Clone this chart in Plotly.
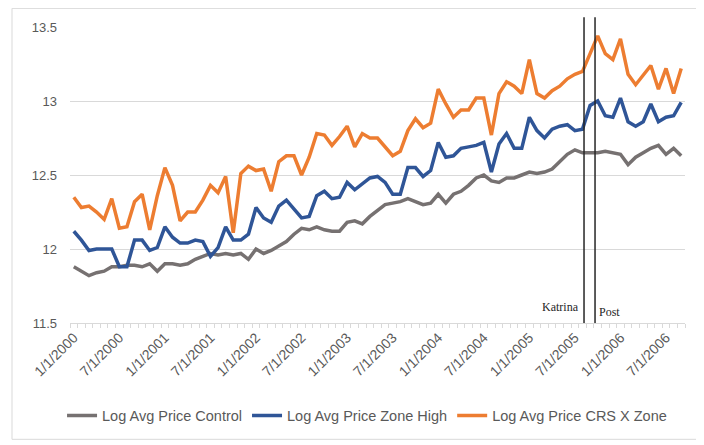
import plotly.graph_objects as go

# Monthly observations, Jan 2000 .. Sep 2006 (81 months)
months = [f"{m}/1/{y}" for y in range(2000, 2007) for m in range(1, 13)][:81]

control = [11.88, 11.85, 11.82, 11.84, 11.85, 11.88, 11.88, 11.89, 11.89, 11.88,
           11.90, 11.85, 11.90, 11.90, 11.89, 11.90, 11.93, 11.95, 11.97, 11.96,
           11.97, 11.96, 11.97, 11.93, 12.00, 11.97, 11.99, 12.02, 12.05, 12.10,
           12.14, 12.13, 12.15, 12.13, 12.12, 12.12, 12.18, 12.19, 12.17, 12.22,
           12.26, 12.30, 12.31, 12.32, 12.34, 12.32, 12.30, 12.31, 12.37, 12.31,
           12.37, 12.39, 12.43, 12.48, 12.50, 12.46, 12.45, 12.48, 12.48, 12.50,
           12.52, 12.51, 12.52, 12.54, 12.59, 12.64, 12.67, 12.65, 12.65, 12.65,
           12.66, 12.65, 12.64, 12.57, 12.62, 12.65, 12.68, 12.70, 12.64, 12.68,
           12.63]

zone_high = [12.12, 12.06, 11.99, 12.00, 12.00, 12.00, 11.88, 11.88, 12.06, 12.06,
             11.99, 12.01, 12.15, 12.08, 12.04, 12.04, 12.06, 12.05, 11.95, 12.01,
             12.15, 12.06, 12.06, 12.10, 12.28, 12.21, 12.18, 12.29, 12.33, 12.27,
             12.21, 12.22, 12.36, 12.39, 12.34, 12.35, 12.45, 12.40, 12.44, 12.48,
             12.49, 12.45, 12.37, 12.37, 12.55, 12.55, 12.49, 12.53, 12.72, 12.62,
             12.63, 12.68, 12.69, 12.70, 12.72, 12.52, 12.71, 12.78, 12.68, 12.68,
             12.89, 12.80, 12.75, 12.81, 12.83, 12.84, 12.80, 12.81, 12.97, 13.00,
             12.90, 12.89, 13.02, 12.86, 12.83, 12.86, 12.98, 12.86, 12.89, 12.90,
             12.99]

crs_zone = [12.35, 12.28, 12.29, 12.25, 12.20, 12.34, 12.14, 12.15, 12.32, 12.37,
            12.13, 12.36, 12.55, 12.43, 12.19, 12.25, 12.25, 12.33, 12.43, 12.38,
            12.49, 12.11, 12.51, 12.56, 12.53, 12.54, 12.39, 12.59, 12.63, 12.63,
            12.50, 12.62, 12.78, 12.77, 12.70, 12.76, 12.83, 12.69, 12.78, 12.75,
            12.75, 12.69, 12.63, 12.66, 12.80, 12.88, 12.82, 12.85, 13.08, 12.98,
            12.89, 12.94, 12.94, 13.02, 13.02, 12.77, 13.05, 13.13, 13.10, 13.05,
            13.28, 13.05, 13.02, 13.07, 13.10, 13.15, 13.18, 13.20, 13.32, 13.44,
            13.32, 13.28, 13.42, 13.18, 13.11, 13.18, 13.24, 13.08, 13.22, 13.05,
            13.22]

tick_labels = ["1/1/2000", "7/1/2000", "1/1/2001", "7/1/2001", "1/1/2002", "7/1/2002",
               "1/1/2003", "7/1/2003", "1/1/2004", "7/1/2004", "1/1/2005", "7/1/2005",
               "1/1/2006", "7/1/2006"]
y_ticks = [11.5, 12, 12.5, 13, 13.5]

# event markers (position in months from Jan 2000)
events = [("Katrina", 67.2), ("Post", 68.65)]

x_idx = list(range(len(months)))
tick_pos = [months.index(t) for t in tick_labels]
major_marks = [p - 0.5 for p in tick_pos] + [len(months) - 0.5]

series = [
    ("Log Avg Price Control", control, "#767171"),
    ("Log Avg Price Zone High", zone_high, "#2F5597"),
    ("Log Avg Price CRS X Zone", crs_zone, "#ED7D31"),
]

fig = go.Figure()
for name, vals, col in series:
    fig.add_trace(go.Scatter(x=x_idx, y=vals, name=name, mode="lines",
                             line=dict(color=col, width=3.5),
                             customdata=months,
                             hovertemplate="%{customdata}: %{y}<extra>" + name + "</extra>"))

font_main = "Liberation Sans Narrow, Arial Narrow, Liberation Sans, Arial, sans-serif"

# page body adds an 8px offset, so the figure is 8px smaller and margins shifted
fig.update_layout(
    width=696, height=437,
    margin=dict(l=62, r=19, t=15, b=122),
    paper_bgcolor="white", plot_bgcolor="white",
    font=dict(family=font_main, size=13, color="#595959"),
    showlegend=True,
    legend=dict(orientation="h", x=0.483, xanchor="center", y=-0.313, yanchor="middle",
                font=dict(size=14.5, color="#595959"), itemwidth=30,
                bgcolor="rgba(0,0,0,0)"),
    xaxis=dict(range=[-0.5, len(months) - 0.5], tickmode="array", tickvals=tick_pos,
               ticktext=tick_labels, tickangle=-45, ticks="", showgrid=False,
               zeroline=False, showline=True, linecolor="#d9d9d9", linewidth=1,
               tickfont=dict(size=14, color="#595959"),
               minor=dict(ticks="outside", tick0=-0.5, dtick=1, ticklen=4,
                          tickcolor="#d9d9d9", tickwidth=1, showgrid=False)),
    xaxis2=dict(overlaying="x", matches="x", anchor="y", side="bottom",
                tickmode="array", tickvals=major_marks, showticklabels=False,
                ticks="outside", ticklen=7, tickcolor="#d9d9d9", tickwidth=1,
                showgrid=False, zeroline=False, showline=False),
    yaxis=dict(range=[11.5, 13.5], tickmode="array", tickvals=y_ticks,
               showgrid=True, gridcolor="#d9d9d9", gridwidth=1, zeroline=False,
               showline=False, ticks="", ticklabelstandoff=12,
               tickfont=dict(size=13, color="#595959")),
)

for label, xpos in events:
    fig.add_shape(type="line", xref="x", yref="paper", x0=xpos, x1=xpos, y0=0, y1=1.033,
                  line=dict(color="#262626", width=1.5))

serif = "Liberation Serif, Times New Roman, serif"
fig.add_annotation(x=events[0][1], xref="x", y=0.053, yref="paper", text="Katrina",
                   showarrow=False, xanchor="right", xshift=-3, yanchor="middle",
                   font=dict(family=serif, size=12, color="#262626"))
fig.add_annotation(x=events[1][1], xref="x", y=0.037, yref="paper", text="Post",
                   showarrow=False, xanchor="left", xshift=2, yanchor="middle",
                   font=dict(family=serif, size=12, color="#262626"))

# chart frame
fig.add_shape(type="rect", xref="paper", yref="paper", x0=-0.0943, x1=1.0195,
              y0=-0.393, y1=1.063, line=dict(color="#d9d9d9", width=1), layer="below")

fig.write_html("out.html")
